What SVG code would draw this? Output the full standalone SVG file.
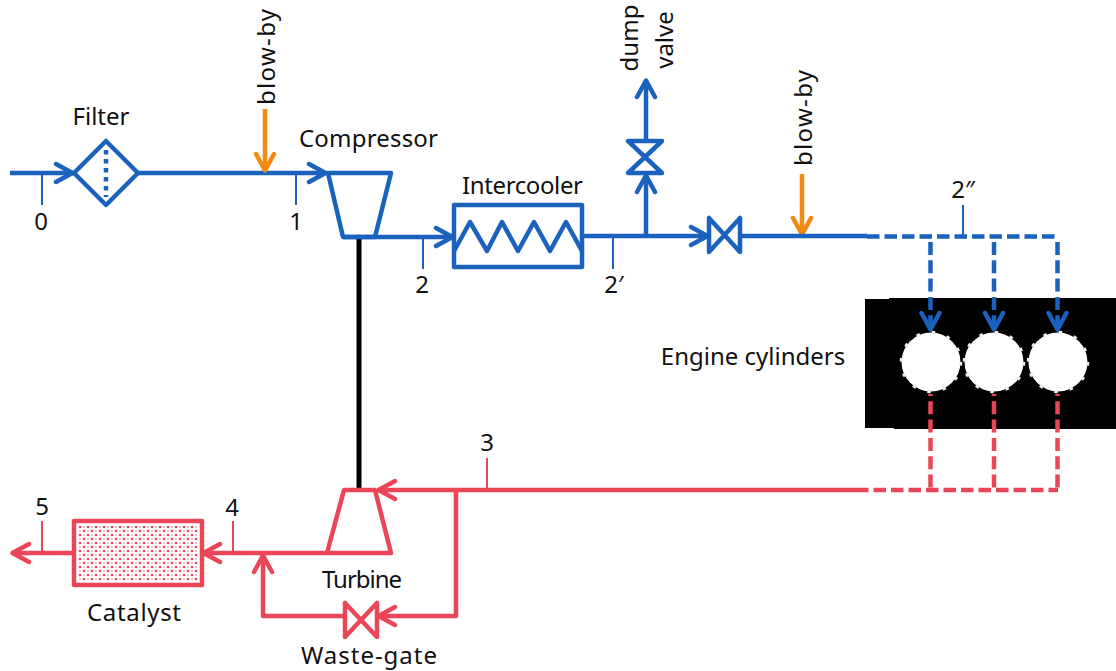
<svg xmlns="http://www.w3.org/2000/svg" width="1116" height="671" viewBox="0 0 1116 671">
<style>
text{font-family:"Noto Sans","Open Sans",sans-serif;font-size:24px;fill:#111;text-anchor:middle}
.b,.r,.o,.bt,.rt{fill:none;stroke-linejoin:round}
.b{stroke:#1a62be;stroke-width:4.5}
.r{stroke:#ea4658;stroke-width:4.5}
.o{stroke:#f28a12;stroke-width:4.5}
.bt{stroke:#1a62be;stroke-width:2}
.rt{stroke:#ea4658;stroke-width:2}
.d{stroke-dasharray:12.5 5}
.dv{stroke-dasharray:13 5.300}
.cat{fill:#fff}
.cyl{fill:#fff;stroke:#eee;stroke-width:3.5;stroke-dasharray:3.500 12}
</style>
<defs>
<pattern id="dots" width="8" height="8" patternUnits="userSpaceOnUse" x="78" y="525">
<rect width="8" height="8" fill="#fff"/>
<circle cx="2" cy="2" r="1.300" fill="#ea4658"/>
<circle cx="6" cy="6" r="1.300" fill="#ea4658"/>
<circle cx="6" cy="2" r="0.800" fill="#f08a96"/>
<circle cx="2" cy="6" r="0.800" fill="#f08a96"/>
</pattern>
<marker id="ab" markerUnits="userSpaceOnUse" markerWidth="24" markerHeight="30" refX="20" refY="15" orient="auto">
<path d="M3 6 L19.500 15 L3 24" fill="none" stroke="#1a62be" stroke-width="4.5" stroke-linecap="round" stroke-linejoin="round"/>
</marker>
<marker id="ar" markerUnits="userSpaceOnUse" markerWidth="24" markerHeight="30" refX="20" refY="15" orient="auto">
<path d="M3 6 L19.500 15 L3 24" fill="none" stroke="#ea4658" stroke-width="4.5" stroke-linecap="round" stroke-linejoin="round"/>
</marker>
<marker id="ao" markerUnits="userSpaceOnUse" markerWidth="24" markerHeight="30" refX="20" refY="15" orient="auto">
<path d="M3 6 L19.500 15 L3 24" fill="none" stroke="#f28a12" stroke-width="4.5" stroke-linecap="round" stroke-linejoin="round"/>
</marker>
</defs>

<g id="engine">
<path d="M865 299H889V298H1116V429H894V428H865Z" fill="#000"/>
<circle class="cyl" cx="931" cy="362" r="29.5"/>
<circle class="cyl" cx="994" cy="362" r="29.5"/>
<circle class="cyl" cx="1058" cy="362" r="29.5"/>
<text x="753" y="365">Engine cylinders</text>
</g>

<g id="connectors">
<path class="b" d="M10 173H73" marker-end="url(#ab)"/>
<path class="b" d="M138 173H326" marker-end="url(#ab)"/>
<path class="o" d="M265 109V171" marker-end="url(#ao)"/>
<path class="o" d="M802 174V235" marker-end="url(#ao)"/>
<path class="b" d="M343 237H453" marker-end="url(#ab)"/>
<path class="b" d="M582 236H708" marker-end="url(#ab)"/>
<path class="b" d="M646 236V175" marker-end="url(#ab)"/>
<path class="b" d="M646 141V80" marker-end="url(#ab)"/>
<path class="b" d="M740 236H867"/>
<path class="b d" d="M867 236.500H1058"/>
<path class="b dv" d="M930.500 242V330" marker-end="url(#ab)"/>
<path class="b dv" d="M994 242V330" marker-end="url(#ab)"/>
<path class="b dv" d="M1057.500 242V330" marker-end="url(#ab)"/>
<path d="M359 237V490" fill="none" stroke="#000" stroke-width="5"/>
<path class="r" d="M856 490H378" marker-end="url(#ar)"/>
<path class="r d" d="M856 490H1058"/>
<path class="r dv" d="M930.500 394V490" stroke-dashoffset="11"/>
<path class="r dv" d="M994 394V490" stroke-dashoffset="11"/>
<path class="r dv" d="M1057.500 394V490" stroke-dashoffset="11"/>
<path class="r" d="M456 490V616H378" marker-end="url(#ar)"/>
<path class="r" d="M344 616H263V555" marker-end="url(#ar)"/>
<path class="r" d="M327 553H203" marker-end="url(#ar)"/>
<path class="r" d="M74 553H12" marker-end="url(#ar)"/>
<path class="bt" d="M42 173V205M296 173V205M423 237V269M613 237V269M963 205V237"/>
<path class="rt" d="M42 521V553M233 521V553M487 458V490"/>
</g>

<g id="filter">
<path class="b" d="M106 141L138 173L106 205L74 173Z"/>
<path class="b" d="M106 150V197" stroke-dasharray="4.500 4.500"/>
<text x="101" y="125">Filter</text>
</g>
<g id="compressor">
<path class="b" d="M328 173H391L375 237H343Z"/>
<text x="368.500" y="147" textLength="139">Compressor</text>
</g>
<g id="intercooler">
<rect class="b" x="454" y="205" width="128" height="62"/>
<path class="b" d="M454 251L470 222L487 251L502 222L518 251L534 222L550 251L566 222L582 251"/>
<text x="522.500" y="194" textLength="121">Intercooler</text>
</g>
<g id="valve-main">
<path class="b" d="M709 218V252L740 218V252Z"/>
</g>
<g id="valve-dump">
<path class="b" d="M628 141H662L628 173H662Z"/>
</g>
<g id="turbine">
<path class="r" d="M344 490H375L391 553H327Z"/>
<text x="362" y="588" textLength="80">Turbine</text>
</g>
<g id="waste-gate">
<path class="r" d="M345 603V637L377 603V637Z"/>
<text x="369" y="664" textLength="136">Waste-gate</text>
</g>
<g id="catalyst">
<rect class="r cat" x="74" y="521" width="128" height="64"/>
<rect x="78" y="525" width="120" height="56" fill="url(#dots)"/>
<text x="134" y="621" textLength="94">Catalyst</text>
</g>
<g id="labels">
<text x="41" y="230">0</text>
<text x="296" y="230">1</text>
<text x="422" y="293">2</text>
<text x="614" y="293">2′</text>
<text x="963" y="198">2″</text>
<text x="487" y="451">3</text>
<text x="232" y="516">4</text>
<text x="42" y="515">5</text>
<text transform="translate(275 57) rotate(-90)" textLength="96">blow-by</text>
<text transform="translate(812 118) rotate(-90)" textLength="96">blow-by</text>
<text transform="translate(638 38) rotate(-90)">dump</text>
<text transform="translate(673 40) rotate(-90)">valve</text>
</g>
</svg>
